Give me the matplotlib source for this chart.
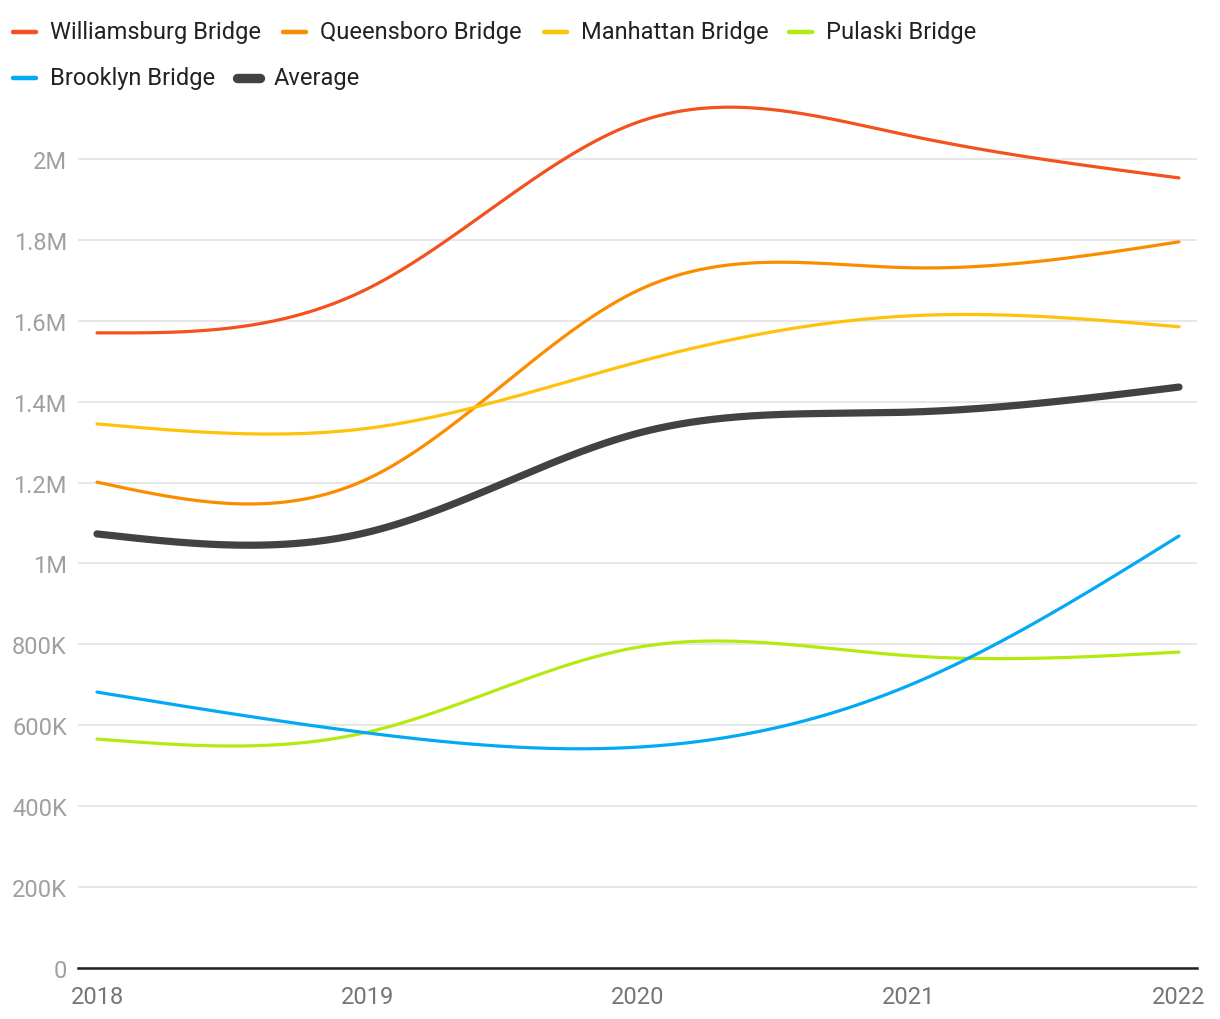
import numpy as np
import matplotlib.pyplot as plt
from matplotlib.lines import Line2D

# ——— data ———
years = [2018, 2019, 2020, 2021, 2022]
williamsburg = [1570000, 1679000, 2091000, 2058000, 1953000]
queensboro = [1201000, 1209000, 1675000, 1731000, 1795000]
manhattan = [1345000, 1334000, 1498000, 1612000, 1585000]
pulaski = [566000, 583000, 793000, 772000, 781000]
brooklyn = [682000, 581000, 546000, 698000, 1068000]
average = [1073000, 1077000, 1322000, 1374000, 1436000]

y_ticks = [0, 200000, 400000, 600000, 800000, 1000000, 1200000,
           1400000, 1600000, 1800000, 2000000]
y_tick_labels = ['0', '200K', '400K', '600K', '800K', '1M', '1.2M',
                 '1.4M', '1.6M', '1.8M', '2M']

series = [
    ('Williamsburg Bridge', williamsburg, '#F4511E', 2.3),
    ('Queensboro Bridge', queensboro, '#FB8C00', 2.3),
    ('Manhattan Bridge', manhattan, '#FFC10A', 2.3),
    ('Pulaski Bridge', pulaski, '#B4EA10', 2.3),
    ('Brooklyn Bridge', brooklyn, '#03A9F4', 2.3),
    ('Average', average, '#424242', 5.2),
]


def natural_spline(x, y, xs):
    """Natural cubic spline through (x, y), evaluated at xs."""
    x = np.asarray(x, float)
    y = np.asarray(y, float)
    n = len(x)
    h = np.diff(x)
    A = np.zeros((n, n))
    b = np.zeros(n)
    A[0, 0] = 1
    A[-1, -1] = 1
    for i in range(1, n - 1):
        A[i, i - 1] = h[i - 1]
        A[i, i] = 2 * (h[i - 1] + h[i])
        A[i, i + 1] = h[i]
        b[i] = 6 * ((y[i + 1] - y[i]) / h[i] - (y[i] - y[i - 1]) / h[i - 1])
    M = np.linalg.solve(A, b)
    idx = np.clip(np.searchsorted(x, xs) - 1, 0, n - 2)
    x0, x1 = x[idx], x[idx + 1]
    hh = x1 - x0
    t0, t1 = x1 - xs, xs - x0
    return (M[idx] * t0 ** 3 / (6 * hh) + M[idx + 1] * t1 ** 3 / (6 * hh)
            + (y[idx] / hh - M[idx] * hh / 6) * t0
            + (y[idx + 1] / hh - M[idx + 1] * hh / 6) * t1)


plt.rcParams['font.family'] = ['Roboto', 'DejaVu Sans']

W, H = 1220, 1020
fig = plt.figure(figsize=(W / 100, H / 100), dpi=100)
ax = fig.add_axes([78 / W, (H - 969) / H, (1197 - 78) / W, (969 - 79) / H])

xs = np.linspace(years[0], years[-1], 400)
for name, vals, color, lw in series:
    ax.plot(xs, natural_spline(years, vals, xs), color=color, lw=lw,
            solid_capstyle='round', zorder=3)

ax.set_xlim(2018 - 19 / 270.5, 2022 + 18 / 270.5)
ax.set_ylim(0, 2200000)
ax.set_yticks(y_ticks)
ax.set_yticklabels(y_tick_labels)
ax.set_xticks(years)
ax.set_xticklabels([str(y) for y in years])
ax.grid(True, axis='y', color='#e0e0e0', linewidth=1.1, zorder=0)
ax.set_axisbelow(True)
for side in ['top', 'right', 'left']:
    ax.spines[side].set_visible(False)
ax.spines['bottom'].set_color('#222222')
ax.spines['bottom'].set_linewidth(1.8)
ax.spines['bottom'].set_zorder(4)
ax.tick_params(axis='y', length=0, pad=8, labelsize=17, labelcolor='#a0a0a0')
ax.tick_params(axis='x', length=0, pad=12, labelsize=17, labelcolor='#757575')

# ——— flow legend across the top ———
legend_pos = [(50, 33), (320, 33), (581, 33), (826, 33), (50, 79), (274, 79)]
for (name, vals, color, lw), (tx, ty) in zip(series, legend_pos):
    fy = 1 - ty / H
    fig.add_artist(Line2D([(tx - 37) / W, (tx - 14) / W], [fy, fy],
                          color=color, lw=lw * 1.4 if lw < 4 else lw * 1.3,
                          solid_capstyle='round', transform=fig.transFigure))
    fig.text(tx / W, fy, name, fontsize=17, color='#222222',
             ha='left', va='center')

fig.savefig('out.png', dpi=100, facecolor='white')
